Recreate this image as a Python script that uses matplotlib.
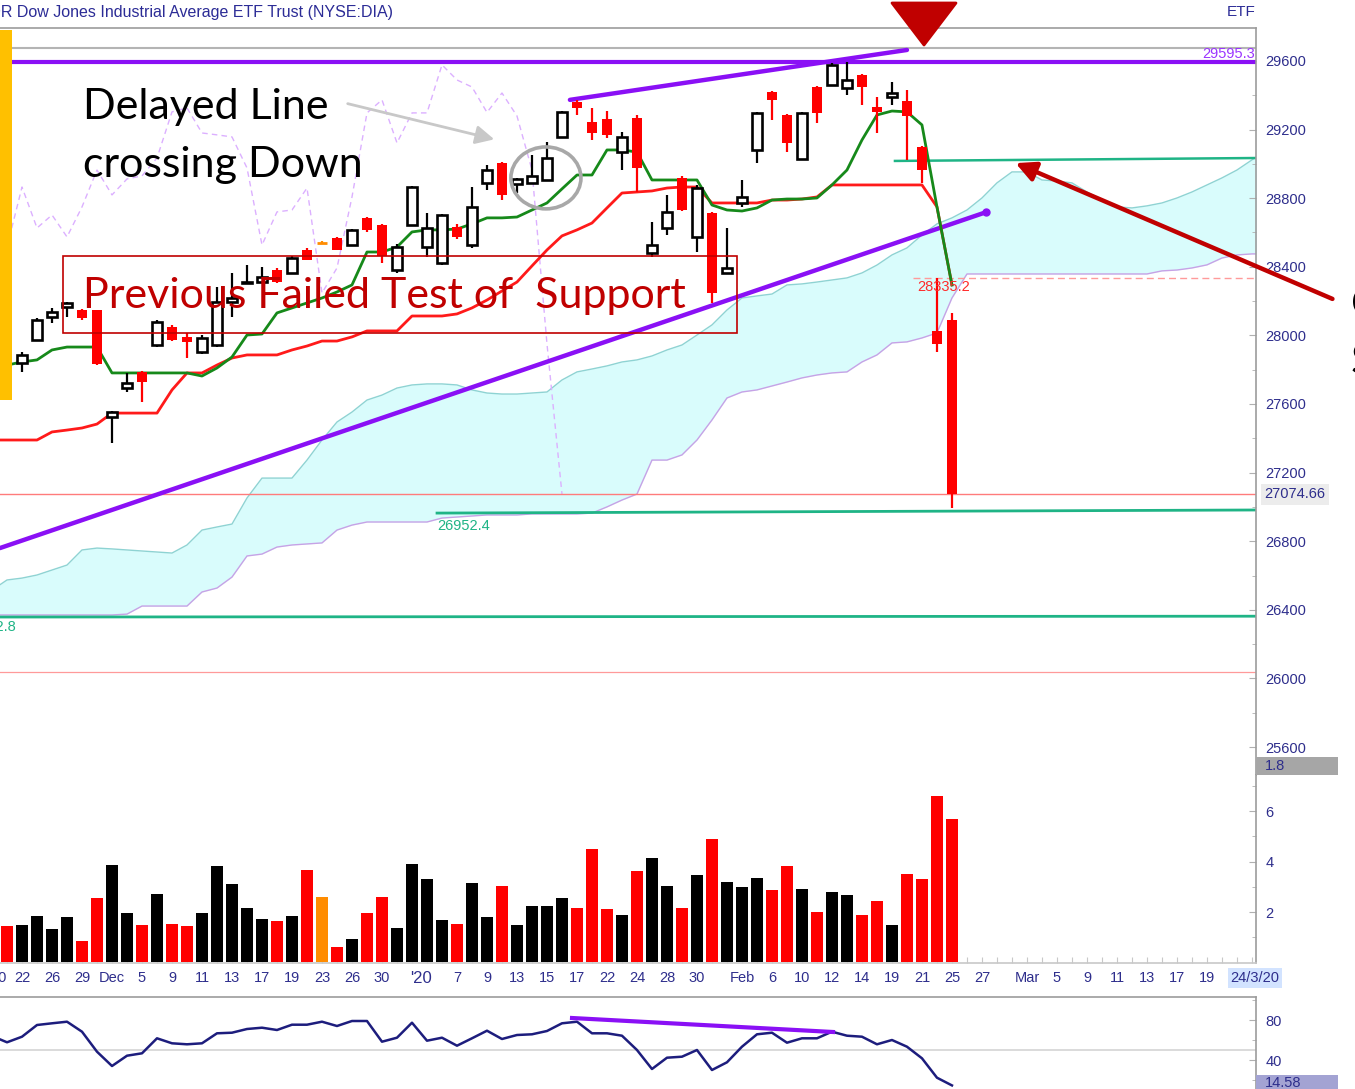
import numpy as np
import matplotlib.pyplot as plt
from matplotlib.patches import Rectangle, Ellipse, Polygon
from matplotlib.transforms import blended_transform_factory

W, H = 1355, 1089

# ---- DATA ----
dates = ["Nov 21", "Nov 22", "Nov 25", "Nov 26", "Nov 27", "Nov 29",
         "Dec 2", "Dec 3", "Dec 4", "Dec 5", "Dec 6", "Dec 9", "Dec 10", "Dec 11", "Dec 12", "Dec 13",
         "Dec 16", "Dec 17", "Dec 18", "Dec 19", "Dec 20", "Dec 23", "Dec 24", "Dec 26", "Dec 27",
         "Dec 30", "Dec 31", "Jan 2", "Jan 3", "Jan 6", "Jan 7", "Jan 8", "Jan 9", "Jan 10", "Jan 13",
         "Jan 14", "Jan 15", "Jan 16", "Jan 17", "Jan 21", "Jan 22", "Jan 23", "Jan 24", "Jan 27",
         "Jan 28", "Jan 29", "Jan 30", "Jan 31", "Feb 3", "Feb 4", "Feb 5", "Feb 6", "Feb 7", "Feb 10",
         "Feb 11", "Feb 12", "Feb 13", "Feb 14", "Feb 18", "Feb 19", "Feb 20", "Feb 21", "Feb 24", "Feb 25"]

opens = [27860, 27839, 27973, 28107, 28166, 28148, 28148, 27524, 27693, 27786, 27944, 28049, 27990,
         27903, 27944, 28195, 28305, 28311, 28381, 28364, 28498, 28539, 28568, 28527, 28685, 28644,
         28381, 28644, 28515, 28422, 28632, 28527, 28889, 29005, 28883, 28889, 28906, 29157, 29361,
         29244, 29262, 29069, 29268, 28480, 28626, 28918, 28574, 28714, 28364, 28772, 29081, 29419,
         29285, 29029, 29448, 29460, 29443, 29518, 29332, 29390, 29367, 29099, 28026, 28090]
highs = [27880, 27903, 28100, 28160, 28195, 28155, 28150, 27560, 27780, 27790, 28090, 28060, 28014,
         28000, 28282, 28364, 28410, 28400, 28390, 28460, 28510, 28550, 28575, 28620, 28690, 28650,
         28530, 28870, 28714, 28710, 28650, 28865, 28994, 29010, 28915, 29052, 29128, 29310, 29370,
         29326, 29308, 29186, 29285, 28661, 28819, 28930, 28877, 28720, 28626, 28906, 29303, 29425,
         29290, 29300, 29455, 29590, 29594, 29525, 29390, 29478, 29431, 29105, 28335, 28131]
lows = [27760, 27787, 27965, 28072, 28107, 28090, 27830, 27373, 27670, 27612, 27935, 27970, 27868,
        27890, 27935, 28107, 28300, 28305, 28305, 28355, 28440, 28530, 28498, 28520, 28600, 28420,
        28364, 28640, 28457, 28410, 28560, 28510, 28848, 28790, 28830, 28885, 28900, 29150, 29285,
        29139, 29151, 28964, 28836, 28457, 28585, 28725, 28486, 28189, 28360, 28749, 29005, 29256,
        29070, 29025, 29238, 29455, 29402, 29343, 29180, 29343, 29023, 28889, 27903, 26994]
closes = [27790, 27886, 28090, 28136, 28189, 28101, 27833, 27553, 27722, 27728, 28078, 27973, 27960,
          27985, 28195, 28218, 28312, 28340, 28311, 28451, 28440, 28539, 28498, 28615, 28615, 28460,
          28515, 28865, 28626, 28702, 28574, 28749, 28964, 28819, 28912, 28930, 29034, 29303, 29326,
          29180, 29169, 29157, 28976, 28527, 28720, 28731, 28859, 28247, 28393, 28807, 29297, 29373,
          29122, 29297, 29297, 29577, 29489, 29448, 29300, 29413, 29279, 28964, 27950, 27075]

# k = black (up), r = red (down), o = orange
bar_colors = ["r", "k", "k", "k", "k", "r", "r", "k", "k", "r", "k", "r", "r", "k", "k", "k",
              "k", "k", "r", "k", "r", "o", "r", "k", "r", "r", "k", "k", "k", "k", "r", "k",
              "k", "r", "k", "k", "k", "k", "r", "r", "r", "k", "r", "k", "k", "r", "k", "r",
              "k", "k", "k", "r", "r", "k", "r", "k", "k", "r", "r", "k", "r", "r", "r", "r"]

volume = [1.43, 1.47, 1.86, 1.33, 1.82, 0.84, 2.57, 3.85, 1.95, 1.49, 2.72, 1.52, 1.44, 1.95, 3.82,
          3.10, 2.15, 1.72, 1.65, 1.85, 3.67, 2.59, 0.63, 0.95, 1.95, 2.59, 1.37, 3.89, 3.31, 1.68,
          1.54, 3.16, 1.82, 3.02, 1.50, 2.23, 2.23, 2.56, 2.17, 4.50, 2.11, 1.90, 3.64, 4.15, 3.02,
          2.17, 3.45, 4.91, 3.19, 3.01, 3.33, 2.88, 3.84, 2.90, 2.02, 2.81, 2.67, 1.89, 2.43, 1.50,
          3.51, 3.29, 6.61, 5.69]

# Ichimoku lines, from bar 0 (Nov 20)
tenkan = [27827, 27827, 27845, 27857, 27915, 27932, 27932, 27932, 27781, 27781, 27781, 27781, 27781,
          27781, 27763, 27810, 27874, 28002, 28008, 28131, 28160, 28189, 28218, 28253, 28294, 28486,
          28486, 28515, 28603, 28615, 28615, 28620, 28650, 28685, 28685, 28690, 28731, 28772, 28854,
          28935, 28935, 29081, 29081, 29069, 28906, 28906, 28906, 28906, 28760, 28731, 28725, 28743,
          28789, 28795, 28795, 28801, 28877, 28964, 29139, 29285, 29308, 29303, 29227, 28749, 28294]
kijun = [27390, 27390, 27390, 27390, 27437, 27448, 27460, 27483, 27547, 27547, 27547, 27547, 27682,
         27781, 27781, 27827, 27868, 27886, 27886, 27886, 27915, 27938, 27967, 27967, 27991, 28026,
         28026, 28026, 28113, 28113, 28113, 28125, 28160, 28206, 28259, 28311, 28405, 28498, 28580,
         28615, 28655, 28743, 28830, 28836, 28842, 28859, 28865, 28865, 28772, 28772, 28772, 28772,
         28789, 28789, 28795, 28807, 28877, 28877, 28877, 28877, 28877, 28877, 28877, 28749, 28294]
span_upper = [26515, 26574, 26585, 26603, 26632, 26661, 26749, 26760, 26755, 26749, 26743, 26737,
              26731, 26778, 26865, 26883, 26900, 27052, 27168, 27168, 27168, 27273, 27390, 27495,
              27553, 27623, 27652, 27693, 27711, 27717, 27717, 27711, 27682, 27664, 27658, 27658,
              27664, 27670, 27740, 27787, 27804, 27822, 27845, 27857, 27880, 27915, 27944, 28002,
              28061, 28148, 28218, 28230, 28241, 28294, 28300, 28311, 28323, 28335, 28364, 28410,
              28469, 28510, 28585, 28650, 28685, 28731, 28801, 28889, 28953, 28953, 28906, 28900,
              28889, 28836, 28789, 28749, 28743, 28755, 28772, 28801, 28836, 28877, 28918, 28964,
              29023, 29081]
span_lower = [26370, 26370, 26370, 26370, 26370, 26370, 26370, 26370, 26370, 26375, 26422, 26422,
              26422, 26422, 26504, 26527, 26591, 26714, 26725, 26766, 26778, 26784, 26790, 26865,
              26894, 26912, 26912, 26912, 26912, 26912, 26935, 26941, 26947, 26953, 26953, 26953,
              26959, 26959, 26959, 26959, 26964, 27000, 27040, 27075, 27273, 27273, 27303, 27390,
              27507, 27635, 27670, 27682, 27705, 27728, 27752, 27769, 27781, 27787, 27845, 27886,
              27956, 27962, 27985, 28014, 28218, 28358, 28358, 28358, 28358, 28358, 28358, 28358,
              28358, 28358, 28358, 28358, 28358, 28358, 28376, 28381, 28393, 28411, 28451, 28469,
              28475, 28475]

rsi = [64, 57.7, 63.3, 75, 76.7, 78.3, 68.3, 48.3, 34, 44.3, 46.7, 61.7, 56.7, 55.7, 56.7, 66.7,
       67.3, 71, 72.3, 70, 75.3, 75.3, 78.3, 74, 79, 79, 58.3, 62.3, 77.3, 59.3, 62.3, 54.3, 61.7,
       69.3, 61, 65, 65.7, 69, 76.7, 78.3, 66.7, 66.7, 64.3, 50, 31, 42.3, 43.3, 50, 30, 37.7, 53.3,
       65.7, 67.3, 57.3, 61.7, 61.7, 68.3, 64.3, 63.3, 55.7, 60, 53.3, 41.7, 22.3, 14.58]

# drawn trend lines (bar index, price)
resist_line = ([38.53, 61.0], [29373, 29664])
support_line = ([0.53, 66.3], [26760, 28719])
rsi_line = ([38.67, 56.07], [82, 68])

tick_idx = [0.45, 2, 4, 6, 8, 10, 12, 14, 16, 18, 20, 22, 24, 26, 28.6, 31, 33, 35, 37, 39, 41, 43,
            45, 47, 50, 52, 54, 56, 58, 60, 62, 64, 66, 69, 71, 73, 75, 77, 79, 81, 84.2]
tick_labels = ["20", "22", "26", "29", "Dec", "5", "9", "11", "13", "17", "19", "23", "26", "30",
               "'20", "7", "9", "13", "15", "17", "22", "24", "28", "30", "Feb", "6", "10", "12",
               "14", "19", "21", "25", "27", "Mar", "5", "9", "11", "13", "17", "19", "24/3/20"]

# ---- FIGURE ----
BLUE = "#2e2e8c"
GRID = "#9c9c9c"
PURPLE = "#8a10f5"
TEAL = "#1fb486"
DRED = "#c00000"
plt.rcParams["font.family"] = ["Liberation Sans", "DejaVu Sans"]

fig = plt.figure(figsize=(W / 100, H / 100), dpi=100)


def fx(px):
    return px / W


def fy(py):
    return 1 - py / H


ax = fig.add_axes([0, fy(775), fx(1256), (775 - 28) / H])
ax_vol = fig.add_axes([0, fy(963), fx(1256), (963 - 775) / H])
ax_rsi = fig.add_axes([0, fy(1100), fx(1256), (1100 - 997) / H])

x = np.arange(1, len(dates) + 1)
x_all = np.arange(len(tenkan))
x_cloud = np.arange(len(span_upper))
xmin, xmax = 0.533, 84.27

for a in (ax, ax_vol, ax_rsi):
    a.set_xlim(xmin, xmax)
    a.spines["left"].set_visible(False)
    for s in ("top", "right", "bottom"):
        a.spines[s].set_color(GRID)
        a.spines[s].set_linewidth(1.2)
    a.yaxis.tick_right()
    a.tick_params(axis="y", which="both", direction="in", colors="#b0b0b0",
                  labelcolor=BLUE, labelsize=10.5, pad=7)
    a.tick_params(axis="y", which="major", length=5)
    a.tick_params(axis="y", which="minor", length=3)

# ---- PRICE PANEL ----
ax.set_ylim(25437, 29792)
ax.set_yticks(np.arange(25600, 29601, 400))
ax.set_yticks(np.arange(25800, 29700, 400), minor=True)
ax.set_xticks([])
ax.spines["bottom"].set_visible(False)

ax.fill_between(x_cloud, span_upper, span_lower, color="#d9fcfc", lw=0, zorder=1)
ax.plot(x_cloud, span_upper, color="#8ed3d3", lw=1, zorder=1.5)
ax.plot(x_cloud, span_lower, color="#c7a2e6", lw=1, zorder=1.5)

# chikou (delayed) line: closes plotted 26 bars back
ax.plot(x[:len(closes) - 26], closes[26:], color="#dcb0ff", lw=1, ls=(0, (4, 3)), zorder=1.6)

ax.axhline(29676, color="#b4b4b4", lw=1.5, zorder=1)
ax.axhline(29595.3, color=PURPLE, lw=3, zorder=2)
ax.axhline(27074.66, color="#ff7b7b", lw=1, zorder=2)
ax.axhline(26037, color="#ff9a9a", lw=0.9, zorder=2)
ax.plot([xmin, xmax], [26358, 26362.8], color=TEAL, lw=2, zorder=2)
ax.plot([29.67, xmax], [26964, 26982], color=TEAL, lw=2, zorder=2)
ax.plot([60.2, xmax], [29017, 29034], color=TEAL, lw=1.8, zorder=2)
ax.plot([61.4, xmax], [28335.2, 28335.2], color="#ff9a9a", lw=1, ls=(0, (5, 3)), zorder=2)

ax.plot(*support_line, color=PURPLE, lw=3.2, zorder=3, solid_capstyle="round")
ax.plot(support_line[0][1], support_line[1][1], "o", color=PURPLE, ms=5, zorder=3)
ax.plot(*resist_line, color=PURPLE, lw=3.2, zorder=3, solid_capstyle="round")

ax.plot(x_all, kijun, color="#ff1a1a", lw=2, zorder=3)
ax.plot(x_all, tenkan, color="#16891a", lw=2, zorder=3)

col_map = {"k": "black", "r": "#ff0000", "o": "#ff8c00"}
for i in range(len(dates)):
    c = col_map[bar_colors[i]]
    ax.vlines(x[i], lows[i], highs[i], color=c, lw=1.6, zorder=4)
    if closes[i] > opens[i]:
        ax.bar(x[i], closes[i] - opens[i], bottom=opens[i], width=0.64,
               facecolor="white", edgecolor=c, lw=1.9, zorder=5)
    elif closes[i] < opens[i]:
        ax.bar(x[i], opens[i] - closes[i], bottom=closes[i], width=0.72, color=c, zorder=5)
    else:
        ax.hlines(opens[i], x[i] - 0.35, x[i] + 0.35, color=c, lw=2, zorder=5)

ax.text(xmax - 0.05, 29600, "29595.3", color="#9b35ff", fontsize=10.5, ha="right", va="bottom")
ax.text(29.7, 26930, "26952.4", color=TEAL, fontsize=10.5, ha="left", va="top")
ax.text(1.6, 26300, "26362.8", color=TEAL, fontsize=10.5, ha="right", va="center")
ax.text(61.7, 28282, "28335.2", color="#ff2a2a", fontsize=10.5, ha="left", va="center", zorder=6)

ax.add_patch(Ellipse((36.93, 28918), 4.67, 361, fill=False, edgecolor="#a8a8a8", lw=2.6, zorder=6))

# ---- VOLUME PANEL ----
ax_vol.set_ylim(-0.02, 7.43)
ax_vol.set_yticks([2, 4, 6])
ax_vol.set_yticks([1, 3, 5, 7], minor=True)
ax_vol.bar(x, volume, width=0.74, color=[col_map[c] for c in bar_colors], zorder=2)
ax_vol.spines["top"].set_visible(False)
ax_vol.spines["bottom"].set_color("#c8c8c8")
ax_vol.set_xticks(np.arange(1, 85))
ax_vol.tick_params(axis="x", direction="in", length=4, colors="#c8c8c8", labelbottom=False)
trans = blended_transform_factory(ax_vol.transData, ax_vol.transAxes)
for t, lab in zip(tick_idx, tick_labels):
    fs = 12 if lab == "'20" else 10.5
    bb = dict(facecolor="#d2e3ff", edgecolor="none", pad=2) if "/" in lab else None
    ax_vol.text(t, -0.08, lab, transform=trans, ha="center", va="center",
                color=BLUE, fontsize=fs, bbox=bb, clip_on=False)

# ---- RSI PANEL ----
ax_rsi.set_ylim(0, 103)
ax_rsi.set_yticks([40, 80])
ax_rsi.set_yticks([20, 60, 100], minor=True)
ax_rsi.set_xticks([])
ax_rsi.spines["bottom"].set_visible(False)
ax_rsi.axhline(50, color="#d4d4d4", lw=1.2)
ax_rsi.plot(x_all, rsi, color="#1d1d7d", lw=1.8, zorder=3)
ax_rsi.plot(*rsi_line, color=PURPLE, lw=3, zorder=4)

# ---- HEADER / LABELS ----
fig.text(fx(393), fy(12), "SPDR Dow Jones Industrial Average ETF Trust (NYSE:DIA)",
         ha="right", va="center", color="#2c2c96", fontsize=11.5)
fig.text(fx(1255), fy(12), "ETF", ha="right", va="center", color="#2c2c96", fontsize=11)

fig.text(fx(1264), fy(494), "27074.66", va="center", color=BLUE, fontsize=10.5,
         bbox=dict(facecolor="#ececec", edgecolor="none", pad=2.5))
fig.add_artist(Rectangle((fx(1256), fy(775)), fx(82), 18 / H, transform=fig.transFigure,
                         facecolor="#a6a6a6", edgecolor="none"))
fig.text(fx(1265), fy(766), "1.8", va="center", color=BLUE, fontsize=10.5)
fig.add_artist(Rectangle((fx(1256), 0), fx(82), 14 / H, transform=fig.transFigure,
                         facecolor="#a3a3d3", edgecolor="none"))
fig.text(fx(1265), fy(1083), "14.58", va="center", color=BLUE, fontsize=10.5)

# ---- ANNOTATIONS ----
fig.add_artist(Rectangle((0, fy(400)), fx(12), 370 / H, transform=fig.transFigure,
                         facecolor="#ffc000", edgecolor="none"))
fig.add_artist(Polygon([(fx(892), fy(3)), (fx(956), fy(3)), (fx(924), fy(45))],
                       closed=True, transform=fig.transFigure, facecolor=DRED,
                       edgecolor=DRED, joinstyle="round", lw=2))

big = dict(fontsize=31, family=["Lato", "DejaVu Sans"])
fig.text(fx(83), fy(107), "Delayed Line", va="center", color="black", **big)
fig.text(fx(83), fy(165), "crossing Down", va="center", color="black", **big)
fig.text(fx(83), fy(296), "Previous Failed Test of  Support", va="center", color=DRED,
         zorder=6, **big)
fig.add_artist(Rectangle((fx(63), fy(333)), fx(737 - 63), (333 - 256) / H,
                         transform=fig.transFigure, fill=False, edgecolor=DRED, lw=1.2))
fig.text(fx(1351), fy(305), "Cloud", va="center", color="black", **big)
fig.text(fx(1351), fy(362), "Support", va="center", color="black", **big)

ax.annotate("", xy=(497, H - 140), xytext=(345, H - 103), xycoords="figure pixels",
            textcoords="figure pixels",
            arrowprops=dict(arrowstyle="-|>", color="#c8c8c8", lw=2, mutation_scale=28))
ax.annotate("", xy=(1013, H - 162), xytext=(1335, H - 300), xycoords="figure pixels",
            textcoords="figure pixels",
            arrowprops=dict(arrowstyle="-|>", color=DRED, lw=3.2, mutation_scale=30))

fig.savefig("out.png", dpi=100)
